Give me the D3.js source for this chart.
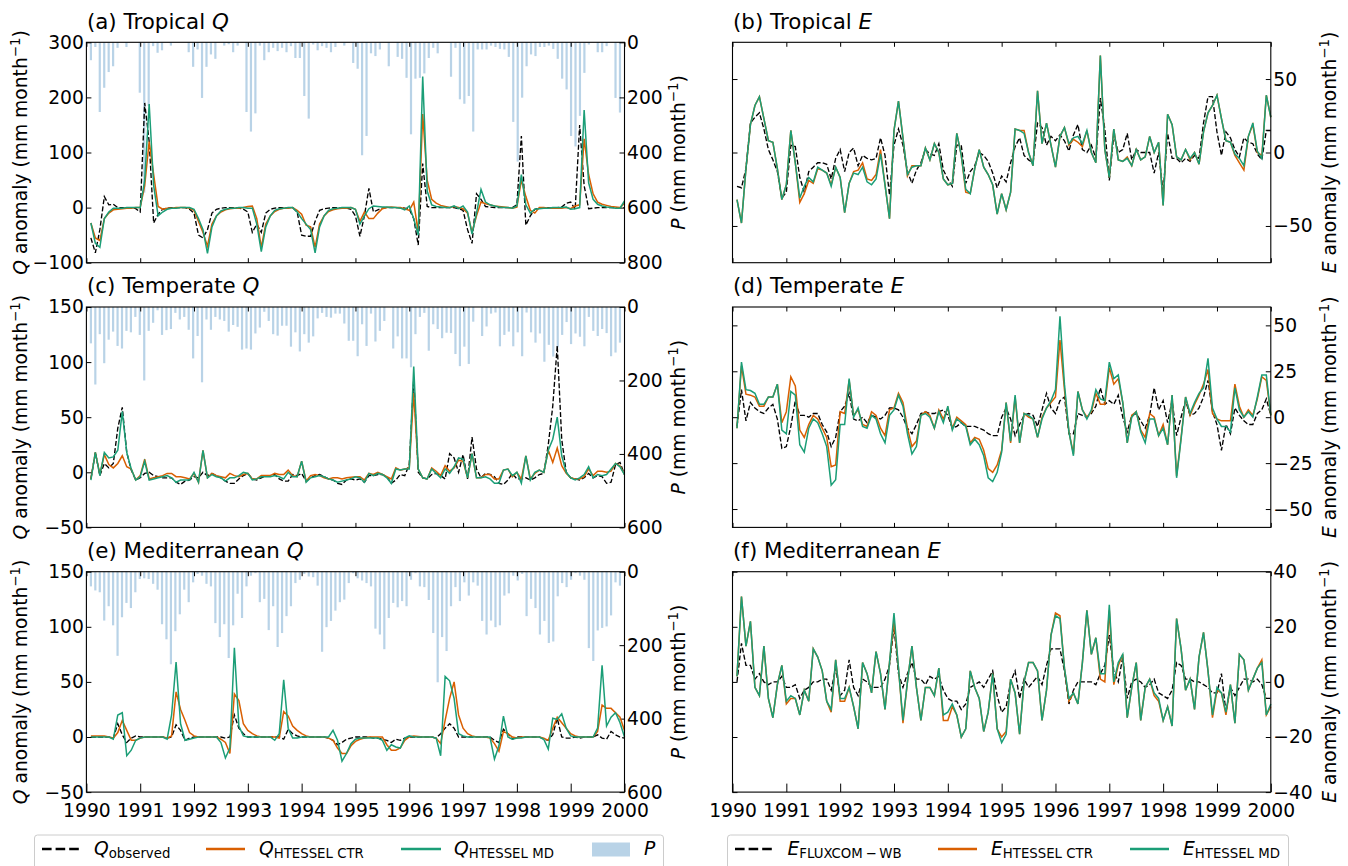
<!DOCTYPE html>
<html>
<head>
<meta charset="utf-8">
<script src="https://cdn.jsdelivr.net/npm/d3@7"></script>
<style>
  html, body { margin: 0; padding: 0; background: #fff; overflow: hidden; }
  svg text { font-family: "DejaVu Sans", sans-serif; fill: #000; }
</style>
</head>
<body>
<svg id="fig" width="1348" height="866"></svg>
<script>
// monthly values, Jan 1990 to Dec 1999, one row per year
const qObsA = [
  -55,-82,-40,20,5,6,0,0,0,0,-2,-8,
  190,120,-28,-12,-3,-1,0,0,0,0,-3,-10,
  -50,-55,-40,-10,-3,-1,0,0,0,-1,-3,-8,
  -45,-30,-45,-10,-3,-1,0,0,0,0,-8,-50,
  -52,-52,-25,-5,-2,-1,0,0,0,-1,-3,-15,
  -52,-15,35,-8,-4,-1,0,0,0,0,-1,-3,
  -20,-68,80,2,0,0,0,0,0,0,-2,-5,
  -40,-65,25,15,2,1,0,0,0,0,0,5,
  130,-32,-15,-3,-1,0,0,0,0,1,8,10,
  -3,150,40,-2,-1,0,0,0,0,0,0,0];
const qCtrA = [
  -28,-55,-60,-20,-10,-4,-3,-2,-1,-1,0,0,
  40,120,60,2,-3,-1,-1,0,0,0,-1,-5,
  -25,-45,-70,-30,-15,-8,-4,-2,-1,-1,0,2,
  3,-20,-72,-30,-15,-7,-3,-1,-1,0,-5,-12,
  -32,-35,-72,-30,-15,-7,-4,-2,-1,-1,0,-3,
  -25,-8,-20,-20,-10,-2,0,1,0,0,-2,-5,
  10,-45,170,50,15,8,4,2,0,2,0,-2,
  -10,-45,-15,10,7,5,3,2,1,0,-1,1,
  50,20,-5,-10,0,0,-1,-1,-1,-1,0,-2,
  3,5,125,60,25,10,6,4,2,1,0,8];
const qMdA = [
  -28,-65,-72,-20,-8,-1,-1,-1,0,0,0,0,
  50,188,40,-15,-8,-3,-1,-1,0,0,0,-3,
  -20,-40,-83,-35,-15,-6,-3,-1,-1,0,0,-1,
  -1,-30,-80,-35,-15,-5,-2,-1,0,0,-8,-20,
  -30,-40,-82,-35,-15,-5,-2,-1,0,0,0,-3,
  -30,-15,-2,3,2,1,1,0,0,-1,-4,3,
  -20,-50,238,30,5,2,1,0,0,3,-2,3,
  -8,-48,-10,33,10,5,3,1,0,0,-1,3,
  60,5,-10,-3,-2,-1,-1,0,0,0,1,-3,
  -2,0,177,45,15,6,3,1,0,-1,-1,12];
const pA = [
  65,17,253,165,108,87,20,0,17,0,0,183,
  546,231,14,38,29,0,12,0,0,0,36,89,
  26,202,89,44,60,0,12,7,36,12,0,253,
  324,258,12,65,36,20,32,20,36,14,57,57,
  195,277,8,29,14,20,36,17,0,12,0,75,
  96,410,340,40,50,26,0,87,0,53,60,129,
  334,132,129,113,57,20,40,0,0,125,20,207,
  223,195,324,26,26,26,12,17,24,26,53,289,
  433,201,87,44,50,17,17,12,24,60,132,171,
  340,378,267,111,8,0,36,36,14,0,202,255];

const eObsB = [
  -23,-24,-11,20,24,27,16,2,-5,-13,-31,-27,
  5,4,-17,-27,-13,-10,-7,-7,-8,-18,-4,2,
  -13,0,3,-9,-2,-4,-5,-4,10,-2,-29,5,
  16,5,-13,-21,-12,-7,2,-1,-2,6,-12,-18,
  -23,5,5,-21,-13,-9,0,-2,-6,-14,-24,-16,
  -20,-7,4,10,-2,-5,-7,20,17,5,11,8,
  12,8,1,12,19,2,0,5,-4,37,16,-19,
  12,0,2,13,-5,2,0,0,0,-14,0,-27,
  13,-4,-4,-7,-4,-6,-2,-4,20,38,38,14,
  -2,14,10,2,-3,10,7,6,-1,-5,15,15];
const eCtrB = [
  -32,-48,-11,19,32,38,23,8,7,-11,-32,-22,
  15,-7,-34,-28,-19,-21,-11,-12,-14,-22,-10,-17,
  -41,-21,-13,-12,-7,-18,-19,-15,2,-22,-45,15,
  35,10,-16,-9,-9,-9,3,-5,6,0,-18,-22,
  -21,13,-2,-27,-28,-11,2,-10,-15,-22,-42,-28,
  -39,-27,16,15,15,0,-9,42,6,20,5,-10,
  11,17,5,9,7,4,15,0,-7,66,2,-17,
  16,-5,-6,-3,-9,2,-5,-3,11,0,7,-36,
  26,19,-3,-5,2,-5,0,-8,14,27,32,39,
  23,8,7,-2,-7,-12,11,19,0,-2,39,24];
const eMdB = [
  -32,-48,-11,19,32,38,23,8,7,-11,-32,-22,
  15,-7,-31,-23,-17,-20,-10,-12,-14,-23,-10,-17,
  -41,-21,-14,-15,-10,-20,-22,-18,-1,-22,-45,15,
  35,10,-15,-10,-9,-9,3,-5,6,0,-18,-22,
  -21,13,-2,-25,-28,-11,2,-10,-15,-22,-42,-28,
  -39,-27,16,15,13,0,-9,42,6,20,5,-10,
  11,17,6,10,11,6,15,0,-7,66,2,-17,
  16,-5,-6,-4,-9,2,-5,-3,11,0,7,-36,
  26,19,-3,-5,2,-4,0,-8,14,27,32,39,
  23,8,7,-1,-4,-9,11,20,1,-4,39,24];

const qObsC = [
  -6,18,-3,8,4,8,40,59,18,2,-7,-5,
  -1,0,-3,-4,-5,-5,-5,-9,-11,-8,-7,-4,
  -5,0,-3,-1,-3,-5,-8,-10,-10,-6,-3,-1,
  -6,-7,-5,-3,-3,-2,-6,-8,-8,-2,-3,-1,
  -8,-5,-3,-2,-4,-6,-7,-10,-11,-7,-6,-7,
  -6,-9,-3,-3,-2,-2,-4,-10,-7,-2,-3,7,
  85,0,-5,-6,-2,-1,-3,-6,17,13,0,16,
  -6,32,3,-5,-1,-2,-4,-10,-11,-7,-1,-6,
  -6,-5,-7,-5,-2,-1,25,60,115,30,0,-5,
  -6,-7,-5,-1,-5,-3,-4,-10,-9,7,9,-2];
const qCtrC = [
  -6,18,-2,16,7,4,8,15,5,3,-7,-3,
  12,-6,-5,-4,-3,-1,-1,-4,-4,-5,-6,-1,
  -9,20,-5,-1,-3,-4,-5,-1,-3,-4,-2,-1,
  -6,-6,-3,-3,-3,-1,-2,-2,2,-3,-4,10,
  -8,-3,-2,-3,-5,-6,-5,-5,-6,-5,-4.5,-4,
  -4,-7,-1,-2,0,-2,-4,-6,4,2,3,4,
  72,3,-5,-6,4,1,-3,6,1,4,11,10,
  -5,17,-5,-5,-2,-2,-6,-6,2,3,-4,0,
  -6,15,-6,-1,2,0,20,9,22,6,-1,-5,
  -6,-6,-4,3,-3,1,1,0,1,8,6,-2];
const qMdC = [
  -7,18,-3,18,13,14,20,55,18,3,-7,-4,
  10,-7,-6,-5,-4,-3,-5,-9,-7,-7,-7,0,
  -9,20,-5,-2,-4,-5,-8,-5,-5,-3,0,-1,
  -7,-6,-4,-4,-4,-3,-4,-6,0,-4,-4,10,
  -9,-5,-4,-3,-4,-6,-7,-9,-8,-7,-6,-4,
  -5,-9,-1,-3,-1,-2,-5,-10,3,2,3,3,
  96,3,-5,-6,3,-1,-5,3,-1,5,13,12,
  -5,17,-5,-5,-4,-6,-10,-10,2,3,-3,0,
  -10,15,-7,0,2,0,20,30,50,15,0,-5,
  -7,-5,-2,5,-5,-2,-3,-2,3,8,5,-2];
const pC = [
  99,211,74,153,89,67,106,113,65,69,27,76,
  200,65,43,9,76,63,60,16,34,27,62,140,
  79,205,34,62,27,34,38,67,49,54,116,113,
  116,72,56,13,38,74,78,51,51,108,69,121,
  74,97,80,31,16,27,29,18,18,45,92,92,
  134,47,106,18,94,65,38,0,113,80,140,140,
  164,74,27,16,119,47,60,85,70,71,128,161,
  108,155,40,0,79,53,18,15,107,76,67,107,
  69,134,15,69,97,72,149,103,135,110,76,41,
  101,72,81,107,27,65,79,60,71,134,124,97];

const eObsD = [
  -5,15,-2,8,5,3,2,5,7,-1,-17,-16,
  -5,9,1,1,0,2,2,-4,-8,-16,-11,3,
  6,13,-1,-2,0,-3,1,0,-1,1,5,5,
  4,0,-6,-9,-4,2,3,2,2,3,4,1,
  -6,-5,-3,-5,-5,-5,-6,-7,-9,-10,-10,0,
  5,-1,-10,-4,1,2,1,-5,4,13,5,2,
  9,11,-9,-9,2,1,0,2,6,16,7,9,
  7,12,0,-8,1,2,-2,-6,1,16,4,9,
  -3,9,-10,0,9,1,2,5,11,20,3,-4,
  -18,-4,-9,5,1,-2,-4,-4,2,4,10,1];
const eCtrD = [
  -6,28,12.5,12,11,6,6,11,11,18,-3,3,
  22,17,-7,-11,-4,1,-1,-6,-11,-27,-26,3,
  2,20,1,4,-4,-5,3,1,-6,-10,4,5,
  13,8,-6,-16,-13,1,3,1,-6,4,-1,5,
  -6,0,-2,-4,-14,-11,-12,-18,-28,-30,-26,-18,
  8,-14,11,-14,2,0,-1,-11,0,5,8,11,
  42,15,-8,-20,14,4,0,3,13,7,7,27,
  18,21,8,-14,1,3,-7,-11,2,0,-10,-4,
  -15,12,-32,-11,11,1,7,12,18,26,2,-1,
  -2,-2,-2,18,6,0,4,1,10,22,20,1];
const eMdD = [
  -6,30,15,14.5,13,7,7,11,11,18,-7,-9,
  14,12,-15,-19,-6,-1,-3,-9,-16,-37,-34,-4,
  -4,21,0,5,-5,-6,1,-1,-9,-14,1,4,
  12,6,-9,-20,-16,1,2,0,-6,3,-3,6,
  -7,-1,-3,-5,-15,-12,-15,-21,-33,-35,-30,-19,
  8,-13,12,-14,2,1,-1,-11,-1,5,9,15,
  55,18,-8,-21,14,4,-1,4,15,10,9,30,
  21,23,8,-14,0,3,-8,-14,-1,-1,-10,-6,
  -15,12,-33,-12,11,2,8,13,16,32,5,-1,
  -5,-5,-8,16,4,0,3,0,11,23,23,1];

const qObsE = [
  0,0,0,0,0,-1,12,2,-5,-1,1,0,
  0,0,0,0,0,-1,0,11,6,-3,-1,0,
  0,0,0,0,0,0,-1,0,20,8,3,0,
  0,0,0,0,0,0,0,-2,7,3,1,0,
  0,0,0,0,0,-1,-3,-7,-5,-2,-1,0,
  0,0,0,-1,-1,-2,-3,-5,-2,-3,-1,0,
  0,0,0,0,0,-1,3,8,12,8,0,0,
  0,0,0,0,0,0,-3,-5,7,3,-2,0,
  0,0,0,0,0,-2,-3,2,17,0,-1,-1,
  0,-1,0,0,0,2,-1,-2,5,2,0,-1];
const qCtrE = [
  1,1,1,1,0,-1,4,15,6,-3,-3,-1,
  0,0,0,0,0,-1,1,41,25,15,4,1,
  0,0,0,0,0,-2,-5,-15,39,33,12,6,
  3,1,0,0,0,0,-1,23,19,10,6,3,
  1,0,0,0,0,-1,-3,-10,-15,-15,-8,-4,
  -2,-1,0,0,0,0,-7,-12,-12,-10,-3,0,
  1,0.5,0,0,0,-1,-6,15,35,50,20,8,
  3,1,0,0,0,-1,-6,-13,5,3,0,-1,
  0,0,0,0,0,-1,-3,8,18,13,8,3,
  1,0,0,0,0,5,29,26,26,22,18,6];
const qMdE = [
  0,0,0,0,0,-2,20,22,-17,-12,-3,-1,
  0,0,0,0,0,-2,20,68,12,-3,-2,-1,
  0,0,0,0,0,-5,-19,-10,81,10,1,0,
  0,0,0,0,0,-3,3,52,8,-1,-1,0,
  0,0,0,0,0,0,6,-3,-22,-15,-6,-2,
  -1,-1,-1,-1,-1,-3,-12,-7,-9,-10,-1,1,
  0,0,0,0,0,-1,-17,55,51,35,3,1,
  0,0,0,0,0,0,-20,-8,19,0,-2,-1,
  -1,0,0,0,0,-2,-11,17,16,21,8,1,
  0,0,0,0,0,8,65,10,18,22,13,0];
const pE = [
  40,51,56,133,94,146,229,124,85,99,56,20,
  18,20,33,49,143,184,252,162,116,49,83,29,
  6,11,33,40,140,178,143,235,146,60,126,40,
  11,4,83,74,159,94,205,167,121,94,31,22,
  6,13,15,38,218,151,134,106,83,76,31,4,
  18,24,31,40,155,171,211,126,85,97,80,94,
  22,4,40,42,77,167,301,178,216,94,42,80,
  29,65,29,38,134,171,133,151,146,65,59,11,
  24,6,121,74,99,171,134,194,190,67,31,42,
  22,4,11,22,208,243,160,153,149,119,29,38];

const eObsF = [
  0,14,6,6,1,3,0,-1,0,0,2,-2,
  -2,-1,-6,-3,-2,0,0,1,1,-3,5,-5,
  -3,8,-2,-5,1,0,-2,-2,-2,1,6,20,
  3,-2,3,7,1,1,-1,2,1,2,-3,-6,
  -7,-7,-10,-8,-2,-1,0,-2,1,4,-5,-11,
  -9,0,4,-6,1,-2,0,2,-1,6,12,12,
  12,4,-8,-3,0,0,0,0,-1,3,6,17,
  4,0,9,-6,0,1,0,-2,-1,1,-4,-5,
  -6,-3,7,6,1,1,0,0,-1,-2,-4,-4,
  3,-11,-2,-5,-2,1,1,0,1,-1,-6,-6];
const eCtrF = [
  2,31,13,22,-2,-5,13,-6,-13,-1,6,-8,
  -6,-6,-12,-3,-7,12,9,4,-7,-11,8,-7,
  -7,-2,-9,-17,7,3,-4,11,3,-10,7,22,
  5,-15,0,13,-2,-14,-2,-2,-5,5,-14,-14,
  -9,-12,-20,-17,4,-2,-6,-18,-11,3,-17,-20,
  -18,1,-4,-19,0,7,7,4,-14,-3,17,25,
  24,5,-7,-4,-8,7,26,10,16,1,0,26,
  -1,6,10,-13,-2,7,-14,-2,1,-5,-7,-14,
  -9,-16,23,12,-3,1,-10,9,18,4,-13,-3,
  -4,-12,-1,-15,10,8,-3,1,5,8,-12,-9];
const eMdF = [
  2,31,13,22,-2,-5,13,-6,-13,-1,6,-7,
  -5,-6,-12,-3,-7,12,9,4,-7,-10,8,-6,
  -6,-2,-9,-17,7,3,-4,11,3,-10,7,25,
  5,-14,0,13,-2,-14,-2,-2,-5,5,-12,-11,
  -8,-12,-20,-17,4,-2,-6,-18,-11,3,-17,-22,
  -19,1,-4,-19,0,7,7,4,-14,-3,17,24,
  23,5,-6,-4,-8,7,26,10,16,3,3,28,
  0,7,10,-13,-2,7,-14,-2,1,-4,-6,-14,
  -9,-16,23,12,-3,1,-10,9,18,4,-12,-2,
  -4,-11,-1,-15,10,8,-3,1,5,7,-12,-8];

const yearLabels = d3.range(1990, 2001);
const qTicksWide = [-100, 0, 100, 200, 300];
const qTicks = [-50, 0, 50, 100, 150];
const pTicksWide = [0, 200, 400, 600, 800];
const pTicks = [0, 200, 400, 600];

const colObs = "#000000", colCtr = "#d95f02", colMd = "#1b9e77", colP = "#b9d3e7";

const svg = d3.select("#fig");
const leftX = [86.4, 624.5], rightX = [732.5, 1270.8];
const rowTop = [42.3, 307, 571.7], rowH = 220.4;

// x runs in months since 1990-01-01, the series are stamped at month end
const monthOf = i => i + 1;
// the P bars were spaced a touch under a month apart
const barMonth = i => 1 + i * 0.9915;

// writes text with italic symbols, subscripts and superscripts
function rich(sel, parts) {
  parts.forEach(p => {
    const t = sel.append("tspan").text(p.t);
    if (p.i) t.attr("font-style", "italic");
    if (p.size) t.attr("font-size", p.size);
    if (p.dy) t.attr("dy", p.dy);
  });
  return sel;
}

function unitParts(sym, word) {
  return [{t: sym, i: true}, {t: word + " (mm month"},
    {t: "\u22121", size: 13.4, dy: -7}, {t: ")", dy: 7}];
}

function drawPanel(cfg) {
  const [x0, x1] = cfg.col === 0 ? leftX : rightX;
  const top = rowTop[cfg.row], bottom = top + rowH;
  const last = cfg.row === 2;
  const x = d3.scaleLinear().domain([0, 120]).range([x0, x1]);
  const y = d3.scaleLinear().domain(cfg.domain).range([bottom, top]);
  const g = svg.append("g");

  if (cfg.p) {
    const yP = d3.scaleLinear().domain(cfg.pDomain).range([top, bottom]);
    g.append("g").selectAll("rect").data(cfg.p).join("rect")
      .attr("x", (d, i) => x(barMonth(i)) - 1.1)
      .attr("y", top)
      .attr("width", 2.2)
      .attr("height", d => yP(d) - top)
      .attr("fill", colP);
    const axP = g.append("g").attr("transform", `translate(${x1},0)`)
      .call(d3.axisRight(yP).tickValues(cfg.pTicks).tickSize(-5).tickPadding(2.5).tickFormat(d3.format("d")));
    styleAxis(axP);
    svg.append("text")
      .attr("transform", `translate(${x0 + 598.5},${top + rowH / 2}) rotate(-90)`)
      .attr("text-anchor", "middle").attr("font-size", 18.7)
      .call(rich, unitParts("P", ""));
  } else {
    const axR = g.append("g").attr("transform", `translate(${x1},0)`)
      .call(d3.axisRight(y).tickValues(cfg.ticks).tickSize(-5).tickPadding(2.5).tickFormat(d3.format("d")));
    styleAxis(axR);
  }

  const line = d3.line().x((d, i) => x(monthOf(i))).y(d => y(d));
  const plot = g.append("g");
  plot.append("path").datum(cfg.obs).attr("d", line).attr("fill", "none")
    .attr("stroke", colObs).attr("stroke-width", 1.35).attr("stroke-dasharray", "5,2.2");
  plot.append("path").datum(cfg.ctr).attr("d", line).attr("fill", "none")
    .attr("stroke", colCtr).attr("stroke-width", 1.5);
  plot.append("path").datum(cfg.md).attr("d", line).attr("fill", "none")
    .attr("stroke", colMd).attr("stroke-width", 1.5);

  // left axis, labelled only on the Q column
  const axL = d3.axisLeft(y).tickValues(cfg.ticks).tickSize(-5).tickPadding(2.5);
  if (cfg.col === 0) axL.tickFormat(d3.format("d")); else axL.tickFormat("");
  styleAxis(g.append("g").attr("transform", `translate(${x0},0)`).call(axL));

  const monthTicks = yearLabels.map((yr, i) => i * 12);
  const axB = d3.axisBottom(x).tickValues(monthTicks).tickSize(last ? -8.5 : -4.5).tickPadding(11.5)
    .tickFormat(last ? (m => String(1990 + m / 12)) : "");
  styleAxis(g.append("g").attr("transform", `translate(0,${bottom})`).call(axB));
  const axT = d3.axisTop(x).tickValues(monthTicks).tickSize(-4.5).tickFormat("");
  styleAxis(g.append("g").attr("transform", `translate(0,${top})`).call(axT));

  // matplotlib style frame around the axes
  g.append("rect").attr("x", x0).attr("y", top).attr("width", x1 - x0).attr("height", rowH)
    .attr("fill", "none").attr("stroke", "#000").attr("stroke-width", 1.1);

  svg.append("text").attr("x", x0 + 0.5).attr("y", top - 13.7).attr("font-size", 21.4)
    .call(rich, [{t: cfg.title + " "}, {t: cfg.sym, i: true}]);

  const labelX = cfg.col === 0 ? 26.7 : 1336;
  svg.append("text")
    .attr("transform", `translate(${labelX},${top + rowH / 2}) rotate(-90)`)
    .attr("text-anchor", "middle").attr("font-size", 18.7)
    .call(rich, unitParts(cfg.sym, " anomaly"));
}

function styleAxis(ax) {
  ax.select(".domain").remove();
  ax.selectAll(".tick line").attr("stroke", "#000").attr("stroke-width", 1);
  ax.selectAll(".tick text").attr("font-size", 18.7).attr("font-family", "DejaVu Sans");
}

drawPanel({col: 0, row: 0, title: "(a) Tropical", sym: "Q", domain: [-100, 300], ticks: qTicksWide,
  obs: qObsA, ctr: qCtrA, md: qMdA, p: pA, pDomain: [0, 800], pTicks: pTicksWide});
drawPanel({col: 1, row: 0, title: "(b) Tropical", sym: "E", domain: [-75, 75], ticks: [-50, 0, 50],
  obs: eObsB, ctr: eCtrB, md: eMdB});
drawPanel({col: 0, row: 1, title: "(c) Temperate", sym: "Q", domain: [-50, 150], ticks: qTicks,
  obs: qObsC, ctr: qCtrC, md: qMdC, p: pC, pDomain: [0, 600], pTicks: pTicks});
drawPanel({col: 1, row: 1, title: "(d) Temperate", sym: "E", domain: [-60, 60], ticks: [-50, -25, 0, 25, 50],
  obs: eObsD, ctr: eCtrD, md: eMdD});
drawPanel({col: 0, row: 2, title: "(e) Mediterranean", sym: "Q", domain: [-50, 150], ticks: qTicks,
  obs: qObsE, ctr: qCtrE, md: qMdE, p: pE, pDomain: [0, 600], pTicks: pTicks});
drawPanel({col: 1, row: 2, title: "(f) Mediterranean", sym: "E", domain: [-40, 40], ticks: [-40, -20, 0, 20, 40],
  obs: eObsF, ctr: eCtrF, md: eMdF});

// legends, they run off the bottom of the picture
function legendFrame(x, w) {
  svg.append("rect").attr("x", x).attr("y", 835).attr("width", w).attr("height", 50).attr("rx", 3)
    .attr("fill", "#fff").attr("stroke", "#cccccc").attr("stroke-width", 1);
}
function legendLine(x0, x1, color, dash) {
  const l = svg.append("line").attr("x1", x0).attr("x2", x1).attr("y1", 849).attr("y2", 849)
    .attr("stroke", color).attr("stroke-width", 2.6);
  if (dash) l.attr("stroke-dasharray", "9.6,4");
}
function legendText(x, sym, sub) {
  const t = svg.append("text").attr("x", x).attr("y", 855).attr("font-size", 18.7);
  t.call(rich, [{t: sym, i: true}]);
  if (sub) t.call(rich, [{t: sub, size: 13.3, dy: 2.6}]);
}

legendFrame(34.5, 629);
legendLine(42, 80, colObs, true);
legendText(94, "Q", "observed");
legendLine(206, 245, colCtr);
legendText(259, "Q", "HTESSEL CTR");
legendLine(401, 441, colMd);
legendText(454, "Q", "HTESSEL MD");
svg.append("rect").attr("x", 592).attr("y", 842.5).attr("width", 38).attr("height", 14).attr("fill", colP);
legendText(644, "P");

legendFrame(727.5, 561);
legendLine(735, 773, colObs, true);
legendText(787.5, "E", "FLUXCOM\u2009\u2212\u2009WB");
legendLine(938, 977, colCtr);
legendText(991, "E", "HTESSEL CTR");
legendLine(1130, 1169, colMd);
legendText(1183, "E", "HTESSEL MD");
</script>
</body>
</html>
